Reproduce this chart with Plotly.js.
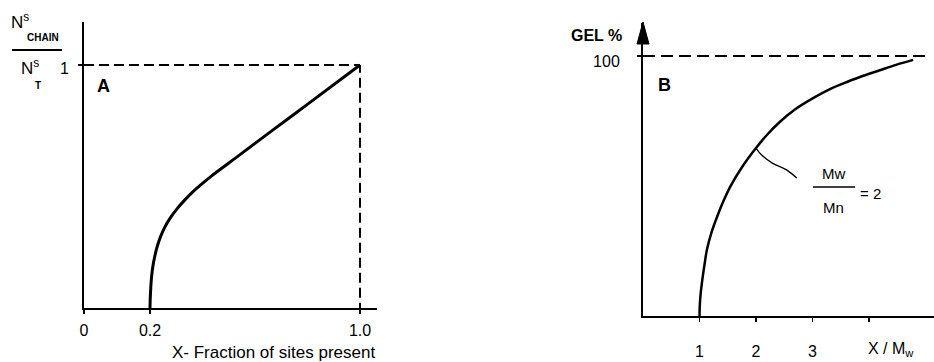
<!DOCTYPE html>
<html><head><meta charset="utf-8">
<script src="https://cdn.plot.ly/plotly-3.0.1.min.js"></script>
<style>html,body{margin:0;padding:0;background:#fff}#chart{width:934px;height:362px}</style>
</head><body><div id="chart"></div><script>
// Panel A: fraction of chain sites vs fraction of sites present
const aX = [0.2, 0.201, 0.203, 0.206, 0.211, 0.218, 0.228, 0.241, 0.257, 0.278, 0.302, 0.332, 0.365, 0.400, 0.435, 0.543, 0.670, 0.797, 1.0];
const aY = [0.0, 0.04, 0.085, 0.129, 0.172, 0.212, 0.255, 0.296, 0.334, 0.372, 0.407, 0.444, 0.480, 0.513, 0.544, 0.631, 0.734, 0.836, 1.0];
const aTickVals = [0.2, 1.0];
const aTickText = ['0.2', '1.0'];
const aOriginLabel = '0';
const aYTickVals = [1];
const aYTickText = ['1'];
// Panel B: gel % vs X / Mw  (Mw/Mn = 2)
const bX = [1.0, 1.005, 1.02, 1.05, 1.09, 1.13, 1.21, 1.31, 1.42, 1.54, 1.76, 2.0, 2.2, 2.42, 2.7, 3.01, 3.3, 3.61, 3.9, 4.19, 4.48, 4.78];
const bY = [0.0, 4.0, 8.5, 14.0, 20.0, 25.4, 32.0, 38.1, 44.0, 49.6, 57.5, 64.6, 69.8, 74.6, 79.6, 83.8, 87.2, 90.0, 92.4, 94.5, 96.6, 98.5];
const pointerX = [2.0, 2.10, 2.29, 2.54, 2.72];
const pointerY = [64.6, 61.9, 58.8, 56.2, 53.1];
const bTickVals = [1, 2, 3, 4];
const bTickText = ['1', '2', '3', ''];
const bYTickVals = [100];
const bYTickText = ['100'];
const bGelMax = 100;
const bDashEnd = 5.03;

const W = 934, H = 362;
const FONT = 'Liberation Sans, Arial, sans-serif';
const px = v => v / W, py = v => 1 - v / H;

// axis ranges (schematic scales)
const aXmin = 0.2 - 66 / 262.5, aXmax = 1.0 + 17 / 262.5;
const aYmax = (308 - 22) / 243;
const bXmax = 291 / 56.5;
const bYmax = (316 - 23) / 2.6;

const line = (x, y, w, dash) => ({x, y, type: 'scatter', mode: 'lines', hoverinfo: 'skip',
  cliponaxis: false, line: {color: '#000', width: w, dash: dash || 'solid'}, showlegend: false});

const traces = [
  Object.assign(line(aX, aY, 3), {line: {color: '#000', width: 3, shape: 'spline', smoothing: 0.8}}),
  line([aXmin, 1.0], [1, 1], 2, '10px,5px'),
  line([1.0, 1.0], [-0.02, 1], 2, '10px,5px'),
  Object.assign(line(bX, bY, 2.5), {xaxis: 'x2', yaxis: 'y2', line: {color: '#000', width: 2.5, shape: 'spline', smoothing: 0.8}}),
  Object.assign(line(pointerX, pointerY, 1.3), {xaxis: 'x2', yaxis: 'y2', line: {color: '#000', width: 1.3, shape: 'spline'}}),
  Object.assign(line([0, bDashEnd], [bGelMax, bGelMax], 2, '12px,6px'), {xaxis: 'x2', yaxis: 'y2'})
];

const axBase = {showgrid: false, zeroline: false, showline: true, linecolor: '#000', linewidth: 2,
  ticks: 'outside', ticklen: 4, tickwidth: 1.5, tickcolor: '#000', tickmode: 'array',
  tickfont: {family: FONT, size: 16, color: '#000'}, fixedrange: true};

const ann = (x, y, text, size, extra) => Object.assign({x: px(x), y: py(y), xref: 'paper', yref: 'paper',
  text, showarrow: false, xanchor: 'center', yanchor: 'middle', font: {family: FONT, size, color: '#000'}}, extra || {});

const layout = {
  width: W, height: H, margin: {l: 0, r: 0, t: 0, b: 0},
  paper_bgcolor: '#fff', plot_bgcolor: '#fff', showlegend: false,
  xaxis: Object.assign({}, axBase, {domain: [px(84), px(377)], range: [aXmin, aXmax], anchor: 'y',
    tickvals: [aXmin].concat(aTickVals), ticktext: [aOriginLabel].concat(aTickText), ticklabelstandoff: 3}),
  yaxis: Object.assign({}, axBase, {domain: [py(308), py(22)], range: [0, aYmax], anchor: 'x',
    tickvals: aYTickVals, ticktext: aYTickText, ticklabelstandoff: 6, ticklabelshift: 3}),
  xaxis2: Object.assign({}, axBase, {domain: [px(643), 1], range: [0, bXmax], anchor: 'y2',
    tickvals: bTickVals, ticktext: bTickText, ticklabelstandoff: 16}),
  yaxis2: Object.assign({}, axBase, {domain: [py(316), py(23)], range: [0, bYmax], anchor: 'x2',
    tickvals: bYTickVals, ticktext: bYTickText, ticklabelstandoff: 14, ticklabelshift: 5}),
  shapes: [
    {type: 'line', xref: 'paper', yref: 'paper', x0: px(12), x1: px(62), y0: py(50), y1: py(50), line: {color: '#000', width: 2}},
    {type: 'line', xref: 'paper', yref: 'paper', x0: px(813), x1: px(855), y0: py(187), y1: py(187), line: {color: '#000', width: 1.5}},
    {type: 'path', xref: 'paper', yref: 'paper',
      path: `M${px(637)},${py(44)} L${px(649)},${py(44)} L${px(643)},${py(22)} Z`, fillcolor: '#000', line: {color: '#000', width: 1}}
  ],
  annotations: [
    ann(20, 21, 'N<sup>s</sup>', 17),
    ann(43, 37, '<b>CHAIN</b>', 10),
    ann(30, 67, 'N<sup>s</sup>', 17),
    ann(38, 85, '<b>T</b>', 10),
    ann(103, 86, '<b>A</b>', 18),
    ann(664, 85, '<b>B</b>', 18),
    ann(596, 35, '<b>GEL %</b>', 16),
    ann(833, 173, 'Mw', 15),
    ann(833, 207, 'Mn', 15),
    ann(870, 193, '= 2', 15),
    ann(273, 352, 'X- Fraction of sites present', 17),
    ann(891, 349, 'X / M<sub>w</sub>', 16)
  ]
};

Plotly.newPlot('chart', traces, layout, {staticPlot: true, displayModeBar: false});
</script></body></html>
